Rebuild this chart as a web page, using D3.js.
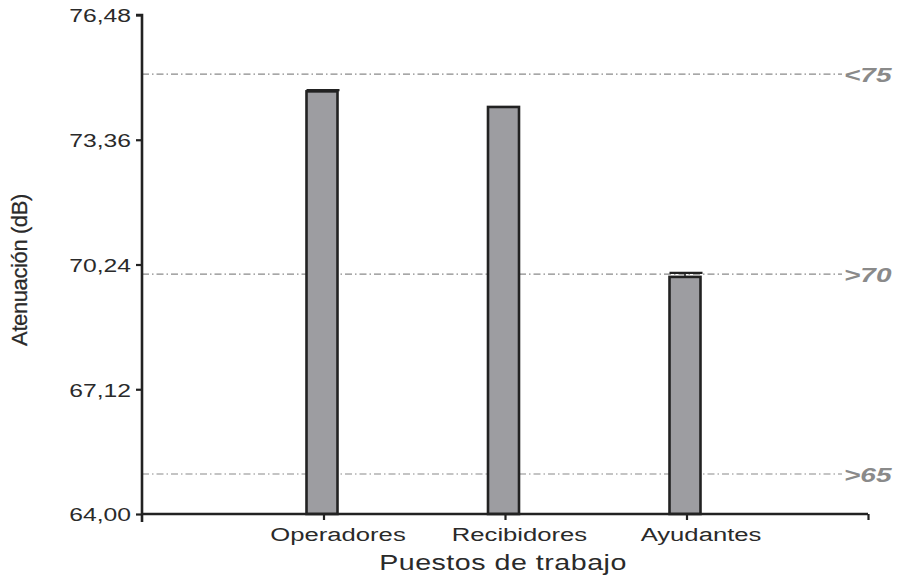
<!DOCTYPE html>
<html>
<head>
<meta charset="utf-8">
<script src="https://cdn.jsdelivr.net/npm/d3@7"></script>
<style>
  html, body { margin: 0; padding: 0; background: #fff; }
  svg { display: block; font-family: "Liberation Sans", Arial, Helvetica, sans-serif; }
</style>
</head>
<body>
<svg id="chart" width="908" height="576"></svg>
<script>
// Puestos de trabajo: mean attenuation with error bars
const categories = ["Operadores", "Recibidores", "Ayudantes"];
const means = [74.57, 74.18, 69.93];
const errors = [0.03, 0.0, 0.1];

// Reference levels drawn as dash-dot lines
const refValues = [75, 70, 65];
const refLabels = ["<75", ">70", ">65"];

// Y axis ticks
const yTicks = [64.00, 67.12, 70.24, 73.36, 76.48];

const svg = d3.select("#chart");
const axisColor = "#222";
const textColor = "#2a2a2a";
const plotLeft = 142, plotRight = 868, plotTop = 15, plotBottom = 514;

const y = d3.scaleLinear().domain([64, 76.48]).range([plotBottom, plotTop]);
// positions 0..4: empty slot, three categories, empty slot
const x = d3.scaleLinear().domain([0, categories.length + 1]).range([plotLeft, plotRight]);
const barW = 31;

// reference lines
const refG = svg.append("g");
refValues.forEach((v, i) => {
  refG.append("line")
    .attr("x1", plotLeft).attr("x2", 842)
    .attr("y1", y(v)).attr("y2", y(v))
    .attr("stroke", "#8a8a8a").attr("stroke-width", 1.2)
    .attr("stroke-dasharray", "7,3,1.5,3");
  refG.append("text")
    .attr("transform", `translate(844,${y(v) + 7.5}) scale(1.4,1)`)
    .attr("font-size", 20).attr("font-weight", "bold").attr("font-style", "italic")
    .attr("fill", "#8a8a8a")
    .text(refLabels[i]);
});

// bars
const bars = svg.append("g");
categories.forEach((c, i) => {
  const cx = x(i + 1) - 1.5;
  bars.append("rect")
    .attr("x", cx - barW / 2).attr("width", barW)
    .attr("y", y(means[i])).attr("height", plotBottom - y(means[i]))
    .attr("fill", "#9d9da1").attr("stroke", axisColor).attr("stroke-width", 2.6);
  if (errors[i] > 0) {
    const hi = y(means[i] + errors[i]);
    bars.append("line")
      .attr("x1", cx).attr("x2", cx).attr("y1", y(means[i])).attr("y2", hi)
      .attr("stroke", axisColor).attr("stroke-width", 1.5);
    bars.append("line")
      .attr("x1", cx - barW / 2).attr("x2", cx + barW / 2 + 2).attr("y1", hi).attr("y2", hi)
      .attr("stroke", axisColor).attr("stroke-width", 2.2);
  }
});

// y axis
const yAxis = svg.append("g").attr("transform", `translate(${plotLeft},0)`)
  .call(d3.axisLeft(y).tickValues(yTicks).tickSize(6).tickPadding(5)
    .tickFormat(d => d3.format(".2f")(d).replace(".", ",")));
yAxis.select(".domain").attr("stroke", axisColor).attr("stroke-width", 2.6)
  .attr("d", `M-6,${plotTop}H0V${plotBottom + 8}`);
yAxis.selectAll(".tick line").attr("stroke", axisColor).attr("stroke-width", 2.2);
const sy = 1.3;
yAxis.selectAll(".tick text")
  .attr("font-size", 19).attr("fill", textColor)
  .attr("transform", `scale(${sy},1)`).attr("x", -11 / sy).attr("dy", "0.36em");

// x axis
const xAxis = svg.append("g").attr("transform", `translate(0,${plotBottom})`)
  .call(d3.axisBottom(x).tickValues([1, 2, 3, 4]).tickSize(6).tickPadding(8)
    .tickFormat(d => categories[d - 1] || ""));
xAxis.select(".domain").attr("stroke", axisColor).attr("stroke-width", 2.6)
  .attr("d", `M${plotLeft},0H${plotRight}`);
xAxis.selectAll(".tick line").attr("stroke", axisColor).attr("stroke-width", 2.2);
const sx = 1.35;
xAxis.selectAll(".tick text")
  .attr("font-size", 19).attr("fill", textColor)
  .attr("transform", `scale(${sx},1)`).attr("x", 14 / sx);
svg.selectAll("g").filter(function () { return this.hasAttribute("font-family"); })
  .attr("font-family", null);

// axis titles
svg.append("text")
  .attr("transform", `translate(503,570) scale(1.3,1)`)
  .attr("text-anchor", "middle").attr("font-size", 22).attr("fill", textColor)
  .attr("letter-spacing", 0.4)
  .text("Puestos de trabajo");

svg.append("text")
  .attr("transform", `translate(27,270) rotate(-90)`)
  .attr("text-anchor", "middle").attr("font-size", 22).attr("fill", textColor)
  .attr("stroke", textColor).attr("stroke-width", 0.25)
  .attr("letter-spacing", -0.4)
  .text("Atenuación (dB)");
</script>
</body>
</html>
